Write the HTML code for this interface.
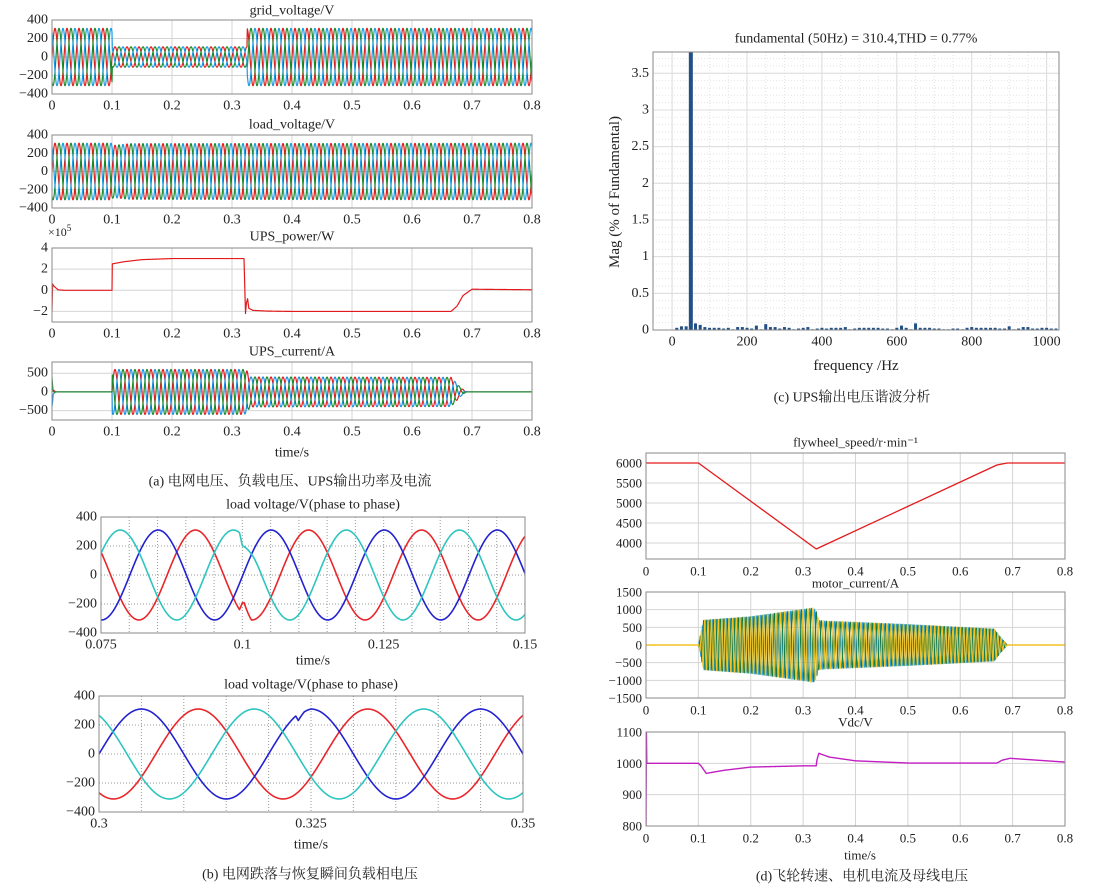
<!DOCTYPE html>
<html><head><meta charset="utf-8">
<style>
html,body{margin:0;padding:0;background:#fff;}
svg{display:block;font-family:"Liberation Serif","Noto Serif CJK SC","Noto Sans CJK SC",serif;}
</style></head>
<body>
<svg id="fig" width="1103" height="890" viewBox="0 0 1103 890" xmlns="http://www.w3.org/2000/svg">
<rect x="0" y="0" width="1103" height="890" fill="#fff"/>
<text x="290" y="482" font-size="14" text-anchor="middle" dominant-baseline="central" fill="#222">(a) 电网电压、负载电压、UPS输出功率及电流</text>
<text x="310" y="875" font-size="14" text-anchor="middle" dominant-baseline="central" fill="#222">(b) 电网跌落与恢复瞬间负载相电压</text>
<text x="852" y="398" font-size="14" text-anchor="middle" dominant-baseline="central" fill="#222">(c) UPS输出电压谐波分析</text>
<text x="862" y="877" font-size="14" text-anchor="middle" dominant-baseline="central" fill="#222">(d)飞轮转速、电机电流及母线电压</text>
</svg>
<script>
// ---------- data ----------
const gridEnvT=[0,0.1,0.1005,0.325,0.3255,0.8];
const gridEnvA=[310,310,110,110,310,310];
const loadEnvT=[0,0.1,0.102,0.13,0.8];
const loadEnvA=[310,310,285,305,310];
const powerT=[0,0.001,0.003,0.01,0.02,0.1,0.1005,0.12,0.15,0.2,0.32,0.3225,0.324,0.326,0.328,0.335,0.36,0.4,0.665,0.675,0.685,0.7,0.8];
const powerV=[-2,0.6,0.4,0.05,0,0,2.5,2.7,2.9,3,3,-2.2,-1.2,-0.8,-1.7,-1.9,-1.97,-2,-2,-1.5,-0.5,0.1,0.05];
const curEnvT=[0,0.002,0.006,0.1,0.1005,0.32,0.325,0.33,0.34,0.665,0.68,0.69,0.8];
const curEnvA=[450,60,0,0,600,600,560,400,400,390,130,0,0];
const b1Peaks=[0.0917,0.0851,0.0784]; // red, blue, cyan peak times
const b2Peaks=[0.3117,0.3050,0.3183];
const phaseAmp=[310,310,310];
const dCyanT=[0.0995,0.1,0.1008,0.102,0.1028];
const dCyanV=[0,-70,-45,-10,0];
const dRedT=[0.0995,0.1,0.1003,0.101,0.1016,0.1025];
const dRedV=[0,75,90,40,0,0];
const dBlueT=[0.3225,0.3232,0.3235,0.3242,0.325];
const dBlueV=[0,0,-45,-10,0];
const harmFreq=[12.5,25,37.5,50,62.5,75,87.5,100,112.5,125,137.5,150,162.5,175,187.5,200,212.5,225,237.5,250,262.5,275,287.5,300,312.5,325,337.5,350,362.5,375,387.5,400,412.5,425,437.5,450,462.5,475,487.5,500,512.5,525,537.5,550,562.5,575,587.5,600,612.5,625,637.5,650,662.5,675,687.5,700,712.5,725,737.5,750,762.5,775,787.5,800,812.5,825,837.5,850,862.5,875,887.5,900,912.5,925,937.5,950,962.5,975,987.5,1000,1012.5,1025];
const harmMag=[0.03,0.05,0.05,3.79,0.09,0.07,0.04,0.03,0.03,0.03,
0.02,0.03,0.01,0.04,0.04,0.03,0.02,0.06,0.01,0.08,
0.04,0.04,0.02,0.04,0.03,0.01,0.02,0.03,0.04,0.01,
0.02,0.03,0.02,0.03,0.03,0.03,0.04,0.01,0.02,0.03,
0.03,0.03,0.03,0.03,0.02,0.02,0.01,0.03,0.06,0.03,
0.01,0.09,0.03,0.03,0.03,0.02,0.02,0.01,0.01,0.02,
0.02,0.01,0.03,0.04,0.03,0.03,0.03,0.03,0.03,0.02,
0.02,0.05,0.01,0.02,0.04,0.04,0.02,0.02,0.03,0.03,0.02,0.02];
const flyT=[0,0.1,0.325,0.67,0.69,0.8];
const flyV=[6000,6000,3850,5950,6000,6000];
const motEnvT=[0,0.1,0.11,0.2,0.32,0.325,0.33,0.34,0.5,0.665,0.675,0.69,0.8];
const motEnvA=[0,0,700,800,1050,950,700,680,580,450,250,0,0];
const vdcT=[0,0.0008,0.0015,0.003,0.1,0.105,0.115,0.15,0.2,0.3,0.325,0.3265,0.33,0.35,0.4,0.5,0.67,0.68,0.695,0.8];
const vdcV=[800,1100,1000,1000,1000,992,968,978,988,992,992,1012,1032,1020,1008,1001,1001,1010,1016,1004];
const timeTicks=[0,0.1,0.2,0.3,0.4,0.5,0.6,0.7,0.8];
const timeLabels=['0','0.1','0.2','0.3','0.4','0.5','0.6','0.7','0.8'];

// ---------- helpers ----------
const NS='http://www.w3.org/2000/svg';
const svg=document.getElementById('fig');
function el(tag,parent){const e=document.createElementNS(NS,tag);parent.appendChild(e);return e;}
function interp(T,V,t){if(t<=T[0])return V[0];for(let i=1;i<T.length;i++){if(t<=T[i]){const f=(t-T[i-1])/(T[i]-T[i-1]);return V[i-1]+f*(V[i]-V[i-1]);}}return V[V.length-1];}
let clipId=0;
function axes(o){
  const g=el('g',svg);
  
  
  const sx=v=>o.x0+(v-o.xd[0])/(o.xd[1]-o.xd[0])*(o.x1-o.x0);
  const sy=v=>o.y1-(v-o.yd[0])/(o.yd[1]-o.yd[0])*(o.y1-o.y0);
  const gc=o.gridColor||'#d4d4d4';
  if(o.minorX){o.minorX.forEach(v=>{const l=el('line',g);l.setAttribute('x1',sx(v));l.setAttribute('x2',sx(v));l.setAttribute('y1',o.y0);l.setAttribute('y2',o.y1);l.setAttribute('stroke','#e2e2e2');l.setAttribute('stroke-dasharray','1,2');});}
  if(o.minorY){o.minorY.forEach(v=>{const l=el('line',g);l.setAttribute('x1',o.x0);l.setAttribute('x2',o.x1);l.setAttribute('y1',sy(v));l.setAttribute('y2',sy(v));l.setAttribute('stroke','#e2e2e2');l.setAttribute('stroke-dasharray','1,2');});}
  const gx=o.gridX||o.xt, gy=o.gridY||o.yt;
  gx.forEach(v=>{const l=el('line',g);l.setAttribute('x1',sx(v));l.setAttribute('x2',sx(v));l.setAttribute('y1',o.y0);l.setAttribute('y2',o.y1);l.setAttribute('stroke',o.dash?'#999':gc);if(o.dash)l.setAttribute('stroke-dasharray','1,2');});
  gy.forEach(v=>{const l=el('line',g);l.setAttribute('x1',o.x0);l.setAttribute('x2',o.x1);l.setAttribute('y1',sy(v));l.setAttribute('y2',sy(v));l.setAttribute('stroke',o.dash?'#999':gc);if(o.dash)l.setAttribute('stroke-dasharray','1,2');});
  const fs=o.fs||14;
  o.xt.forEach((v,i)=>{const t=el('text',g);t.setAttribute('x',sx(v));t.setAttribute('y',o.y1+12);t.setAttribute('font-size',fs);t.setAttribute('text-anchor','middle');t.setAttribute('dominant-baseline','central');t.setAttribute('fill','#222');t.textContent=o.xl[i];
    
    });
  o.yt.forEach((v,i)=>{const t=el('text',g);t.setAttribute('x',o.x0-4);t.setAttribute('y',sy(v));t.setAttribute('font-size',fs);t.setAttribute('text-anchor','end');t.setAttribute('dominant-baseline','central');t.setAttribute('fill','#222');t.textContent=o.yl[i];
    
    });
  const cp=el('clipPath',g);const cid='c'+(clipId++);cp.setAttribute('id',cid);const cr=el('rect',cp);cr.setAttribute('x',o.x0);cr.setAttribute('y',o.y0);cr.setAttribute('width',o.x1-o.x0);cr.setAttribute('height',o.y1-o.y0);
  const plot=el('g',g);plot.setAttribute('clip-path','url(#'+cid+')');
  
  
  const b=el('rect',g);b.setAttribute('x',o.x0);b.setAttribute('y',o.y0);b.setAttribute('width',o.x1-o.x0);b.setAttribute('height',o.y1-o.y0);b.setAttribute('fill','none');b.setAttribute('stroke','#8a8a8a');
  
  
  if(o.title){const t=el('text',g);t.setAttribute('x',o.tx||(o.x0+o.x1)/2);t.setAttribute('y',o.ty);t.setAttribute('font-size',o.tfs||14);t.setAttribute('text-anchor','middle');t.setAttribute('dominant-baseline','central');t.setAttribute('fill','#222');t.textContent=o.title;
    
    }
  return {g:plot,sx,sy};
}
function poly(ax,ts,vs,color,name,w){
  let d='';for(let i=0;i<ts.length;i++){d+=(i?'L':'M')+ax.sx(ts[i]).toFixed(2)+','+ax.sy(vs[i]).toFixed(2);}
  const p=el('path',ax.g);p.setAttribute('d',d);p.setAttribute('fill','none');p.setAttribute('stroke',color);p.setAttribute('stroke-width',w||1);p.setAttribute('stroke-linejoin','round');
  
  
}
function phaseSig(envT,envA,f,ph,t0,t1,dt){const ts=[],vs=[];for(let t=t0;t<=t1+1e-9;t+=dt){ts.push(t);vs.push(interp(envT,envA,t)*Math.sin(2*Math.PI*f*t+ph));}return [ts,vs];}
const PH=[0,-2*Math.PI/3,2*Math.PI/3];

// ---------- panel (a) ----------
const vTicks=[-400,-200,0,200,400], vLabels=['\u2212400','\u2212200','0','200','400'];
const aGrid=axes({name:'grid-voltage-chart',x0:52,x1:532,y0:20,y1:94,xd:[0,0.8],yd:[-400,400],xt:timeTicks,xl:timeLabels,yt:vTicks,yl:vLabels,title:'grid_voltage/V',ty:11});
const aCol=['#e31a1c','#1a8a2a','#1b9be0'];
[0,1,2].forEach(k=>{const s=phaseSig(gridEnvT,gridEnvA,50,PH[k],0,0.8,0.0002);poly(aGrid,s[0],s[1],aCol[k],'grid-voltage-phase-'+(k+1),1.2);});
const aLoad=axes({name:'load-voltage-chart',x0:52,x1:532,y0:135,y1:208,xd:[0,0.8],yd:[-400,400],xt:timeTicks,xl:timeLabels,yt:vTicks,yl:vLabels,title:'load_voltage/V',ty:125});
[0,1,2].forEach(k=>{const s=phaseSig(loadEnvT,loadEnvA,50,PH[k],0,0.8,0.0002);poly(aLoad,s[0],s[1],aCol[k],'load-voltage-phase-'+(k+1),1.2);});
const aPow=axes({name:'ups-power-chart',x0:52,x1:532,y0:248,y1:322,xd:[0,0.8],yd:[-3,4],xt:timeTicks,xl:timeLabels,yt:[-2,0,2,4],yl:['\u22122','0','2','4'],title:'UPS_power/W',ty:237});
(function(){const ts=[],vs=[];for(let t=0;t<=0.8;t+=0.0005){ts.push(t);vs.push(interp(powerT,powerV,t));}poly(aPow,ts,vs,'#e31a1c','ups-power-line',1.2);})();
(function(){const t=el('text',svg);t.setAttribute('x',48);t.setAttribute('y',236);t.setAttribute('font-size',12);t.setAttribute('fill','#222');t.textContent='\u00d710';const s=el('tspan',t);s.setAttribute('dy',-5);s.setAttribute('font-size',9);s.textContent='5';

})();
const aCur=axes({name:'ups-current-chart',x0:52,x1:532,y0:362,y1:420,xd:[0,0.8],yd:[-750,800],xt:timeTicks,xl:timeLabels,yt:[-500,0,500],yl:['\u2212500','0','500'],title:'UPS_current/A',ty:352});
const cCol=['#e31a1c','#1b8fe0','#1a8a2a'];
[0,1,2].forEach(k=>{const s=phaseSig(curEnvT,curEnvA,50,PH[k],0,0.8,0.0002);poly(aCur,s[0],s[1],cCol[k],'ups-current-phase-'+(k+1),1.2);});
(function(){const t=el('text',svg);t.setAttribute('x',292);t.setAttribute('y',453);t.setAttribute('font-size',14);t.setAttribute('text-anchor','middle');t.setAttribute('dominant-baseline','central');t.setAttribute('fill','#222');t.textContent='time/s';

})();

// ---------- panel (b) ----------
const bCol=['#e8262a','#2222d0','#2ec4c0'];
function bSig(peaks,k,t0,t1,dT,dV){const ts=[],vs=[];for(let t=t0;t<=t1+1e-9;t+=0.00005){ts.push(t);let v=phaseAmp[k]*Math.cos(2*Math.PI*50*(t-peaks[k]));if(dT)v+=interp(dT,dV,t);vs.push(v);}return [ts,vs];}
const bGridX1=[],bGridX2=[];
for(let i=0;i<=15;i++)bGridX1.push(0.075+i*0.005);
for(let i=0;i<=10;i++)bGridX2.push(0.3+i*0.005);
const bY=[-400,-200,0,200,400];
const b1=axes({name:'phase-voltage-dip-chart',x0:101,x1:525,y0:517,y1:633,xd:[0.075,0.15],yd:[-400,400],xt:[0.075,0.1,0.125,0.15],xl:['0.075','0.1','0.125','0.15'],gridX:bGridX1,yt:bY,yl:vLabels,dash:true,title:'load voltage/V(phase to phase)',ty:505});
[0,1,2].forEach(k=>{let s;if(k===2)s=bSig(b1Peaks,k,0.075,0.15,dCyanT,dCyanV);else if(k===0)s=bSig(b1Peaks,k,0.075,0.15,dRedT,dRedV);else s=bSig(b1Peaks,k,0.075,0.15);poly(b1,s[0],s[1],bCol[k],'dip-phase-'+(k+1),1.6);});
const b2=axes({name:'phase-voltage-recovery-chart',x0:99,x1:523,y0:696,y1:812,xd:[0.3,0.35],yd:[-400,400],xt:[0.3,0.325,0.35],xl:['0.3','0.325','0.35'],gridX:bGridX2,yt:bY,yl:vLabels,dash:true,title:'load voltage/V(phase to phase)',ty:685});
[0,1,2].forEach(k=>{const s=(k===1)?bSig(b2Peaks,k,0.3,0.35,dBlueT,dBlueV):bSig(b2Peaks,k,0.3,0.35);poly(b2,s[0],s[1],bCol[k],'recovery-phase-'+(k+1),1.6);});
[[313,661],[311,845]].forEach(p=>{const t=el('text',svg);t.setAttribute('x',p[0]);t.setAttribute('y',p[1]);t.setAttribute('font-size',14);t.setAttribute('text-anchor','middle');t.setAttribute('dominant-baseline','central');t.setAttribute('fill','#222');t.textContent='time/s';

});

// ---------- panel (c) ----------
const cYt=[0,0.5,1,1.5,2,2.5,3,3.5], cYl=['0','0.5','1','1.5','2','2.5','3','3.5'];
const cMinY=[],cMinX=[];for(let i=1;i<38;i++)cMinY.push(i*0.1);for(let i=0;i<=20;i++)cMinX.push(i*50);
const cAx=axes({name:'harmonic-spectrum-chart',x0:653,x1:1059,y0:52,y1:330,xd:[-51,1033],yd:[0,3.79],xt:[0,200,400,600,800,1000],xl:['0','200','400','600','800','1000'],yt:cYt,yl:cYl,minorX:cMinX,minorY:cMinY,gridColor:'#dcdcdc',title:'fundamental (50Hz) = 310.4,THD = 0.77%',ty:39,tx:856});
harmFreq.forEach((f,i)=>{const r=el('rect',cAx.g);const w=(f===50)?4:3;r.setAttribute('x',cAx.sx(f)-w/2);r.setAttribute('y',cAx.sy(harmMag[i]));r.setAttribute('width',w);r.setAttribute('height',cAx.sy(0)-cAx.sy(harmMag[i]));r.setAttribute('fill','#215087');

});
(function(){const t=el('text',svg);t.setAttribute('x',856);t.setAttribute('y',366);t.setAttribute('font-size',15);t.setAttribute('text-anchor','middle');t.setAttribute('dominant-baseline','central');t.setAttribute('fill','#222');t.textContent='frequency /Hz';


const y=el('text',svg);y.setAttribute('x',0);y.setAttribute('y',0);y.setAttribute('font-size',15);y.setAttribute('text-anchor','middle');y.setAttribute('dominant-baseline','central');y.setAttribute('fill','#222');y.setAttribute('transform','translate(615,192) rotate(-90)');y.textContent='Mag (% of Fundamental)';

})();

// ---------- panel (d) ----------
const d1=axes({name:'flywheel-speed-chart',x0:646,x1:1065,y0:453,y1:559,xd:[0,0.8],yd:[3600,6250],xt:timeTicks,xl:timeLabels,yt:[4000,4500,5000,5500,6000],yl:['4000','4500','5000','5500','6000'],fs:13,title:'flywheel_speed/r\u00b7min\u207b\u00b9',ty:442,tfs:13});
poly(d1,flyT,flyV,'#e31a1c','flywheel-speed-line',1.3);
const d2=axes({name:'motor-current-chart',x0:646,x1:1065,y0:592,y1:698,xd:[0,0.8],yd:[-1500,1500],xt:timeTicks,xl:timeLabels,yt:[-1500,-1000,-500,0,500,1000,1500],yl:['\u22121500','\u22121000','\u2212500','0','500','1000','1500'],fs:13,title:'motor_current/A',ty:583,tfs:13});
(function(){const dCol=['#2a9fdc','#1a7a3a','#f2c227'];
 [0,1,2].forEach(k=>{const ts=[],vs=[];let ph=0;for(let t=0;t<=0.8;t+=0.0001){const f=interp(flyT,flyV,t)/6000*160;ph+=2*Math.PI*f*0.0001;ts.push(t);vs.push(interp(motEnvT,motEnvA,t)*Math.sin(ph+PH[k])+(k===2?8*Math.sin(t*9000):0));}poly(d2,ts,vs,dCol[k],'motor-current-phase-'+(k+1),1);});})();
const d3=axes({name:'dc-bus-voltage-chart',x0:646,x1:1065,y0:732,y1:826,xd:[0,0.8],yd:[800,1100],xt:timeTicks,xl:timeLabels,yt:[800,900,1000,1100],yl:['800','900','1000','1100'],fs:13,title:'Vdc/V',ty:722,tfs:13});
(function(){const ts=[],vs=[];for(let t=0;t<=0.8;t+=0.0002){ts.push(t);vs.push(interp(vdcT,vdcV,t));}poly(d3,ts,vs,'#c21fc2','vdc-line',1.4);})();
(function(){const t=el('text',svg);t.setAttribute('x',860);t.setAttribute('y',855);t.setAttribute('font-size',13);t.setAttribute('text-anchor','middle');t.setAttribute('dominant-baseline','central');t.setAttribute('fill','#222');t.textContent='time/s';

})();
</script>
</body></html>
